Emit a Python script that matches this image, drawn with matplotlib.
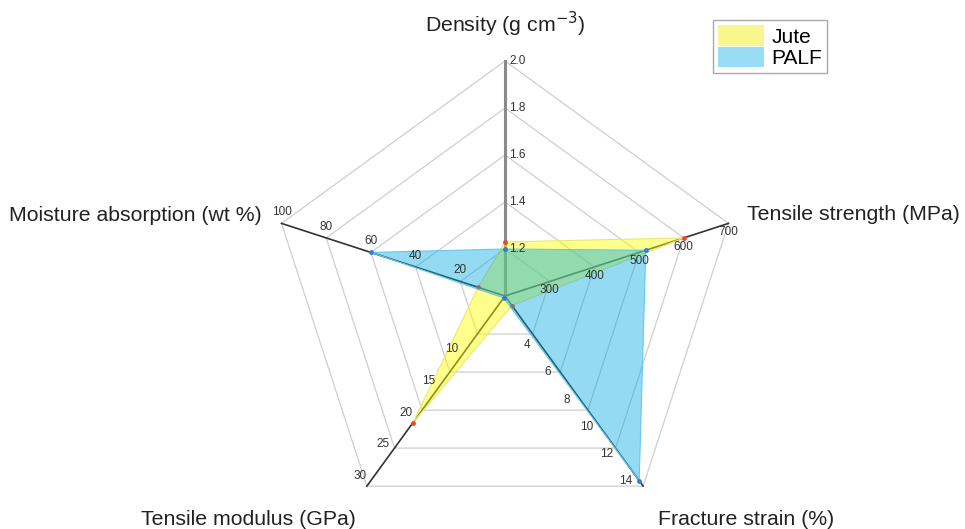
import matplotlib
matplotlib.use("Agg")
import matplotlib.pyplot as plt
from matplotlib.patches import Patch
import numpy as np

plt.rcParams['font.family'] = ['Liberation Sans', 'DejaVu Sans']

# properties on each spoke, clockwise from the top
labels = ["Density (g cm$^{-3}$)", "Tensile strength (MPa)", "Fracture strain (%)",
          "Tensile modulus (GPa)", "Moisture absorption (wt %)"]
axis_min = [1.0, 200, 0, 0, 0]
axis_max = [2.0, 700, 14, 30, 100]
ticks = [[1.2, 1.4, 1.6, 1.8, 2.0],
         [300, 400, 500, 600, 700],
         [4, 6, 8, 10, 12, 14],
         [10, 15, 20, 25, 30],
         [20, 40, 60, 80, 100]]
tick_fmt = ["{:.1f}", "{:d}", "{:d}", "{:d}", "{:d}"]

jute = [1.23, 600, 0.7, 20, 12]
palf = [1.2, 515, 13.6, 0.3, 60]

# layout of the spider (pixel offsets for labels)
tick_off = [(4, 0, 'left'), (0, -9, 'center'), (-17, 5, 'center'), (-7, 10, 'center'), (0, 11, 'center')]
title_off = [(0, 37, 'center'), (19, 9, 'left'), (15, -33, 'left'), (-11, -33, 'right'), (-20, 8, 'right')]

n = len(labels)
ang = np.deg2rad(np.arange(n) * 360 / n)
dx, dy = np.sin(ang), np.cos(ang)

def to_xy(vals):
    r = [(v - lo) / (hi - lo) for v, lo, hi in zip(vals, axis_min, axis_max)]
    return np.array(r) * dx, np.array(r) * dy

fig = plt.figure(figsize=(9.65, 5.29), dpi=100)
ax = fig.add_axes([0, 0, 1, 1])
R = 235.0
cx, cy = 505, 296
ax.set_xlim(-cx / R, (965 - cx) / R)
ax.set_ylim(-(529 - cy) / R, cy / R)
ax.axis('off')

# pentagon grid
for k in range(1, 6):
    f = k / 5
    ax.plot(np.append(dx, dx[0]) * f, np.append(dy, dy[0]) * f, color='#cfcfcf', lw=0.9, zorder=1)

# spokes
for i in range(n):
    if i == 0:
        ax.plot([0, dx[i]], [0, dy[i]], color='#8a8a8a', lw=2.2, zorder=2)
    else:
        ax.plot([0, dx[i]], [0, dy[i]], color='#333333', lw=1.2, zorder=2)

# series
jx, jy = to_xy(jute)
px, py = to_xy(palf)
ax.fill(jx, jy, color='#ffff00', alpha=0.45, lw=0, zorder=3)
ax.plot(np.append(jx, jx[0]), np.append(jy, jy[0]), color='#e8e870', lw=0.8, zorder=3)
ax.plot(jx, jy, 'o', color='#ee4433', ms=3.5, mec='none', zorder=4)
ax.fill(px, py, color='#00a8e0', alpha=0.42, lw=0, zorder=5)
ax.plot(np.append(px, px[0]), np.append(py, py[0]), color='#66c8ee', lw=0.8, zorder=5)
ax.plot(px, py, 'o', color='#2f7fd8', ms=3.5, mec='none', zorder=6)

# tick labels and spoke titles
for i in range(n):
    ox, oy, ha = tick_off[i]
    for t in ticks[i]:
        r = (t - axis_min[i]) / (axis_max[i] - axis_min[i])
        ax.annotate(tick_fmt[i].format(t), (r * dx[i], r * dy[i]), xytext=(ox, oy),
                    textcoords='offset pixels', ha=ha, va='center', fontsize=8.5,
                    color='#333333', zorder=7)
    ox, oy, ha = title_off[i]
    ax.annotate(labels[i], (dx[i], dy[i]), xytext=(ox, oy), textcoords='offset pixels',
                ha=ha, va='center', fontsize=15.3, color='#222222', zorder=7)

handles = [Patch(facecolor='#f7f78c', edgecolor='none'), Patch(facecolor='#98dcf5', edgecolor='none')]
leg = fig.legend(handles, ['Jute', 'PALF'], loc='upper left', bbox_to_anchor=(713 / 965, 1 - 20 / 529),
                 fontsize=15, handlelength=2.2, handleheight=1.15, labelspacing=0.0,
                 handletextpad=0.35, borderpad=0.25, borderaxespad=0, fancybox=False,
                 edgecolor='#aaaaaa', framealpha=1)
leg.get_frame().set_linewidth(1.0)

fig.savefig('out.png', dpi=100)
